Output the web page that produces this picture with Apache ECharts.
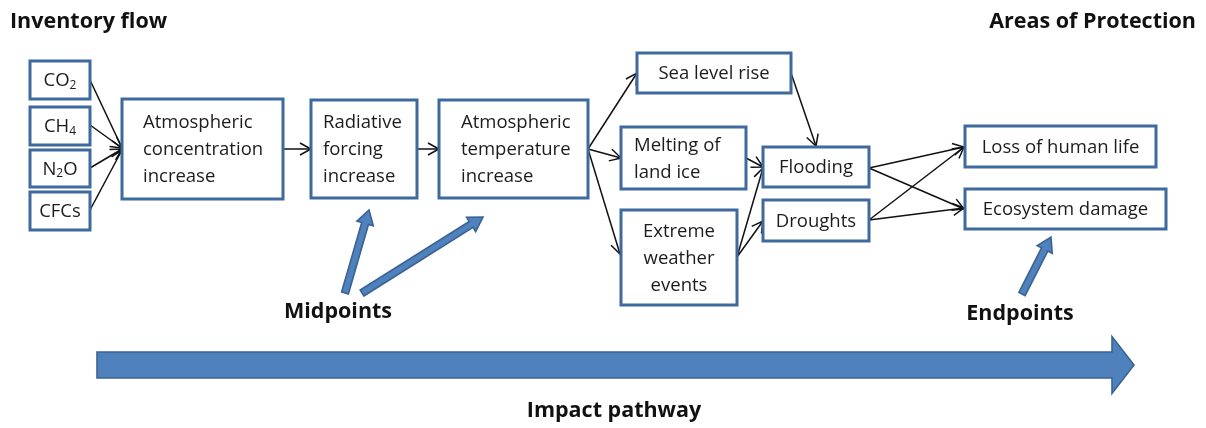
<!DOCTYPE html>
<html>
<head>
<meta charset="utf-8">
<script src="https://cdn.jsdelivr.net/npm/echarts@6/dist/echarts.min.js"></script>
<style>
  html, body { margin: 0; padding: 0; background: #ffffff; }
  #chart { width: 1206px; height: 428px; }
</style>
</head>
<body>
<div id="chart"></div>
<script>
// ---- Diagram content ----
const nodeLabels = [
  'CO{sub|2}', 'CH{sub|4}', 'N{sub|2}O', 'CFCs',
  'Atmospheric\nconcentration\nincrease',
  'Radiative\nforcing\nincrease',
  'Atmospheric\ntemperature\nincrease',
  'Sea level rise',
  'Melting of\nland ice',
  'Extreme\nweather\nevents',
  'Flooding',
  'Droughts',
  'Loss of human life',
  'Ecosystem damage'
];
// box extents in diagram units [x1, y1, x2, y2]
const nodeBoxes = [
  [30, 61, 90, 99], [30, 107, 90, 145], [30, 150, 90, 187], [30, 192, 90, 230],
  [122, 99, 283, 199],
  [311, 100, 417, 198],
  [439, 100, 588, 198],
  [637, 53, 791, 93],
  [621, 127, 746, 189],
  [621, 210, 737, 305],
  [763, 147, 869, 187],
  [763, 200, 869, 241],
  [965, 126, 1156, 167],
  [965, 189, 1166, 229]
];
// text alignment in box: null = centred, number = left inset
const nodeTextInset = [null, null, null, null, 21, 12, 22, null, 13, null, null, null, null, null];

// thin arrows: [fromX, fromY, toX, toY]
const flowLinks = [
  [90, 80, 122, 148], [90, 125, 122, 148], [90, 168, 122, 149], [90, 210, 122, 150],
  [283, 149, 311, 149],
  [417, 149, 439, 149],
  [588, 149, 637, 73], [588, 149, 621, 158], [588, 149, 620, 254],
  [791, 73, 816, 146],
  [746, 158, 763, 167],
  [737, 257, 763, 168], [737, 257, 763, 221],
  [869, 168, 964, 147], [869, 168, 964, 209],
  [869, 220, 964, 147], [869, 220, 964, 208]
];

// thick arrows: [fromX, fromY, toX, toY, bodyWidth, headWidth, headLength]
const bigArrows = [
  [345, 293, 369, 210, 7, 17, 14],
  [362, 293, 483, 217, 7, 17, 14],
  [1022, 294, 1051, 237, 7, 17, 14],
  [97, 365, 1134, 365, 26, 57, 22]
];

// free text: [text, x, y, align, size]
const captions = [
  ['Inventory flow', 10, 22, 'left', 21.5],
  ['Areas of Protection', 1196, 22, 'right', 21.5],
  ['Midpoints', 338, 312, 'center', 21.5],
  ['Endpoints', 1020, 314, 'center', 21.5],
  ['Impact pathway', 614, 411, 'center', 21.5]
];

const BORDER = '#3f6a9d';
const FILL = '#4f81bd';
const FONT = '"Open Sans", Lato, sans-serif';

const chart = echarts.init(document.getElementById('chart'));

function arrowPolygon(p0, p1, bw, hw, hl) {
  const dx = p1[0] - p0[0], dy = p1[1] - p0[1];
  const L = Math.sqrt(dx * dx + dy * dy);
  const ux = dx / L, uy = dy / L, nx = -uy, ny = ux;
  const bx = p1[0] - ux * hl, by = p1[1] - uy * hl;
  return [
    [p0[0] + nx * bw / 2, p0[1] + ny * bw / 2],
    [bx + nx * bw / 2, by + ny * bw / 2],
    [bx + nx * hw / 2, by + ny * hw / 2],
    [p1[0], p1[1]],
    [bx - nx * hw / 2, by - ny * hw / 2],
    [bx - nx * bw / 2, by - ny * bw / 2],
    [p0[0] - nx * bw / 2, p0[1] - ny * bw / 2]
  ];
}

const option = {
  animation: false,
  backgroundColor: '#ffffff',
  grid: { left: 0, right: 0, top: 0, bottom: 0 },
  xAxis: { type: 'value', min: 0, max: 1206, show: false },
  yAxis: { type: 'value', min: 0, max: 428, inverse: true, show: false },
  series: [
    {
      type: 'custom',
      name: 'thick arrows',
      clip: false,
      data: bigArrows,
      renderItem: function (params, api) {
        const p0 = api.coord([api.value(0), api.value(1)]);
        const p1 = api.coord([api.value(2), api.value(3)]);
        const pts = arrowPolygon(p0, p1, api.value(4), api.value(5), api.value(6));
        return {
          type: 'polygon',
          shape: { points: pts },
          style: { fill: FILL, stroke: '#3a6393', lineWidth: 1.6, lineJoin: 'miter' }
        };
      }
    },
    {
      type: 'custom',
      name: 'flows',
      clip: false,
      data: flowLinks,
      renderItem: function (params, api) {
        const p0 = api.coord([api.value(0), api.value(1)]);
        const p1 = api.coord([api.value(2), api.value(3)]);
        const dx = p1[0] - p0[0], dy = p1[1] - p0[1];
        const L = Math.sqrt(dx * dx + dy * dy);
        const ux = dx / L, uy = dy / L;
        const hl = 11, hw = 6;
        const a = [p1[0] - ux * hl - uy * hw, p1[1] - uy * hl + ux * hw];
        const b = [p1[0] - ux * hl + uy * hw, p1[1] - uy * hl - ux * hw];
        return {
          type: 'group',
          children: [
            { type: 'line', shape: { x1: p0[0], y1: p0[1], x2: p1[0], y2: p1[1] },
              style: { stroke: '#111', lineWidth: 1.5 } },
            { type: 'polyline', shape: { points: [a, p1, b] },
              style: { stroke: '#111', lineWidth: 1.5, fill: null } }
          ]
        };
      }
    },
    {
      type: 'custom',
      name: 'boxes',
      clip: false,
      data: nodeBoxes,
      renderItem: function (params, api) {
        const i = params.dataIndex;
        const p1 = api.coord([api.value(0), api.value(1)]);
        const p2 = api.coord([api.value(2), api.value(3)]);
        const inset = nodeTextInset[i];
        const tx = inset == null ? (p1[0] + p2[0]) / 2 : p1[0] + inset;
        return {
          type: 'group',
          children: [
            { type: 'rect',
              shape: { x: p1[0], y: p1[1], width: p2[0] - p1[0], height: p2[1] - p1[1] },
              style: { fill: '#ffffff', stroke: BORDER, lineWidth: 3 } },
            { type: 'text',
              style: {
                text: nodeLabels[i],
                x: tx, y: (p1[1] + p2[1]) / 2 + 1,
                align: inset == null ? 'center' : 'left',
                verticalAlign: 'middle',
                fill: '#1c1c1c',
                fontFamily: FONT, fontSize: 18.5, lineHeight: 27,
                rich: {
                  sub: { fontSize: 12, fontFamily: FONT, fill: '#1c1c1c', padding: [9, 0, 0, 0] }
                }
              } }
          ]
        };
      }
    },
    {
      type: 'custom',
      name: 'captions',
      clip: false,
      data: captions.map(c => [c[1], c[2]]),
      renderItem: function (params, api) {
        const c = captions[params.dataIndex];
        const p = api.coord([api.value(0), api.value(1)]);
        return {
          type: 'text',
          style: {
            text: c[0], x: p[0], y: p[1], align: c[3], verticalAlign: 'middle',
            fill: '#111', fontFamily: FONT, fontWeight: 'bold', fontSize: c[4]
          }
        };
      }
    }
  ]
};
chart.setOption(option);
</script>
</body>
</html>
